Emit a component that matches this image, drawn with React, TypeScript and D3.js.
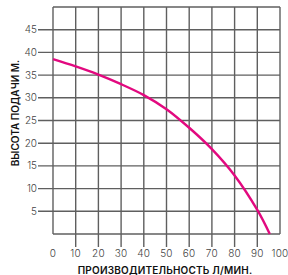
import React from 'react'
import * as d3 from 'd3'

// pump curve: flow (l/min) vs head (m)
const flow = [0, 10, 20, 30, 40, 50, 60, 70, 80, 90, 95.5]
const head = [38.5, 36.9, 35.1, 33.0, 30.6, 27.5, 23.4, 18.7, 12.9, 5.3, 0]

const xTicks = [0, 10, 20, 30, 40, 50, 60, 70, 80, 90, 100]
const yTicks = [5, 10, 15, 20, 25, 30, 35, 40, 45]
const yGrid = [0, 5, 10, 15, 20, 25, 30, 35, 40, 45, 50]

const xTitle = 'ПРОИЗВОДИТЕЛЬНОСТЬ Л/МИН.'
const yTitle = 'ВЫСОТА ПОДАЧИ М.'

const W = 288
const H = 275
const grid = '#5f5f5f'
const font = 'Inter, "Noto Sans", sans-serif'

const App = () => {
  const x = d3.scaleLinear().domain([0, 100]).range([53, 280])
  const y = d3.scaleLinear().domain([0, 50]).range([234, 7])

  const line = d3
    .line<number>()
    .x((d, i) => x(flow[i]))
    .y((d) => y(d))
    .curve(d3.curveCatmullRom.alpha(0.5))

  return (
    <svg
      width={W}
      height={H}
      style={{ position: 'absolute', left: 0, top: 0, background: '#fff' }}
    >
      {/* grid */}
      {xTicks.map((t) => (
        <line
          key={`vx-${t}`}
          x1={x(t)}
          x2={x(t)}
          y1={y(50)}
          y2={t > 0 && t < 100 ? y(0) + 13 : y(0)}
          stroke={grid}
          strokeWidth={1.4}
        />
      ))}
      {yGrid.map((t) => (
        <line
          key={`hy-${t}`}
          x1={t > 0 && t < 50 ? x(0) - 15 : x(0)}
          x2={x(100)}
          y1={y(t)}
          y2={y(t)}
          stroke={grid}
          strokeWidth={1.4}
        />
      ))}

      {/* curve */}
      <path d={line(head) || ''} fill="none" stroke="#e2097f" strokeWidth={2.4} />

      {/* tick labels */}
      {xTicks.map((t) => (
        <text
          key={`xl-${t}`}
          x={x(t)}
          y={257}
          textAnchor="middle"
          fontFamily={font}
          fontSize={10}
          fontWeight={300}
          letterSpacing={0.3}
          fill="#444"
        >
          {t}
        </text>
      ))}
      {yTicks.map((t) => (
        <text
          key={`yl-${t}`}
          x={37}
          y={y(t)}
          dy="0.35em"
          textAnchor="end"
          fontFamily={font}
          fontSize={10}
          fontWeight={300}
          fill="#444"
        >
          {t}
        </text>
      ))}

      {/* titles */}
      <text
        x={165}
        y={274}
        textAnchor="middle"
        fontFamily={font}
        fontSize={10}
        fontWeight={600}
        letterSpacing={0.2}
        fill="#111"
      >
        {xTitle}
      </text>
      <text
        transform={`translate(19 113) rotate(-90)`}
        textAnchor="middle"
        fontFamily={font}
        fontSize={10}
        fontWeight={600}
        fill="#111"
      >
        {yTitle}
      </text>
    </svg>
  )
}

export default App
